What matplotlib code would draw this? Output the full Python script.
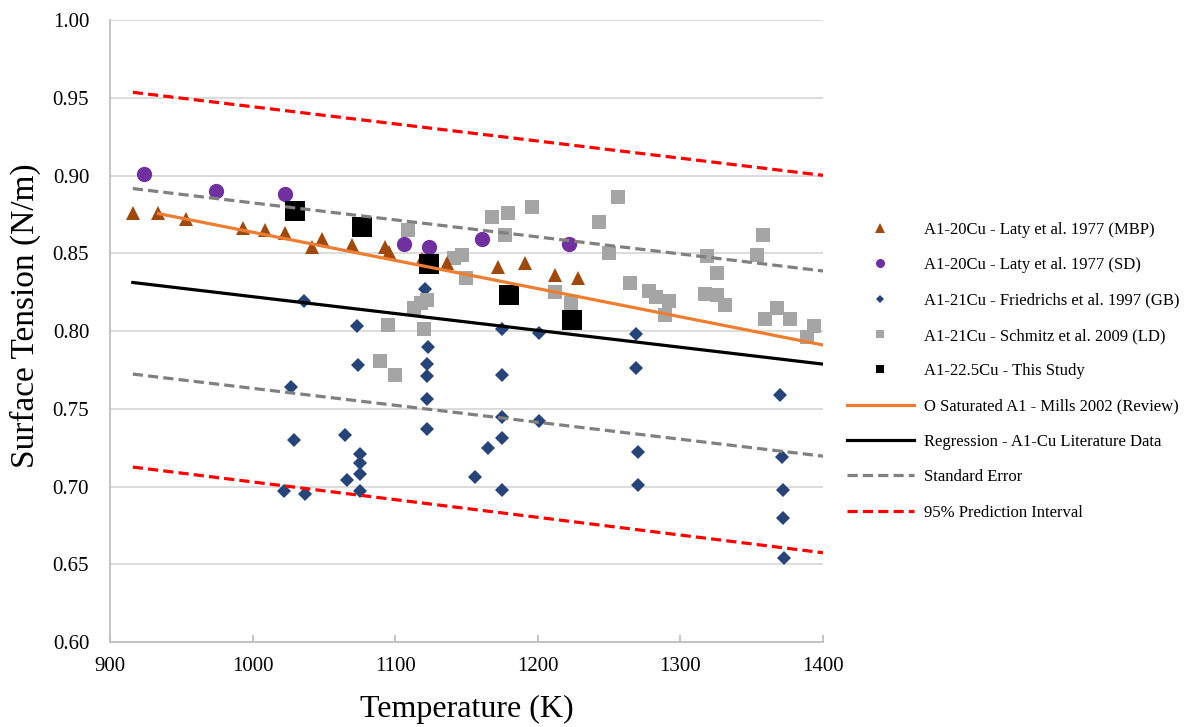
import numpy as np
import matplotlib
matplotlib.use('Agg')
import matplotlib.pyplot as plt
from matplotlib.lines import Line2D

plt.rcParams['font.family'] = ['Liberation Serif', 'DejaVu Serif']

# Laty et al. 1977, maximum bubble pressure
mbp_T = [916, 934, 953, 993, 1009, 1023, 1042, 1049, 1070, 1093, 1096, 1119, 1136, 1172, 1191, 1212, 1228]
mbp_st = [0.876, 0.876, 0.872, 0.866, 0.865, 0.863, 0.854, 0.859, 0.855, 0.854, 0.851, 0.846, 0.844, 0.841, 0.844, 0.836, 0.834]

# Laty et al. 1977, sessile drop
sd_T = [924, 974, 1023, 1106, 1124, 1161, 1222]
sd_st = [0.901, 0.890, 0.888, 0.856, 0.854, 0.859, 0.856]

# Friedrichs et al. 1997, GB
gb_T = [1036, 1027, 1029, 1022, 1037, 1073, 1074, 1065, 1066, 1075, 1075, 1075, 1075,
        1121, 1123, 1122, 1122, 1122, 1122, 1156, 1165, 1175, 1175, 1175, 1175, 1175,
        1201, 1201, 1269, 1269, 1270, 1270, 1370, 1371, 1372, 1372, 1373]
gb_st = [0.819, 0.764, 0.730, 0.697, 0.695, 0.803, 0.778, 0.733, 0.704, 0.721, 0.715, 0.708, 0.697,
         0.827, 0.790, 0.779, 0.771, 0.756, 0.737, 0.706, 0.725, 0.801, 0.772, 0.745, 0.731, 0.698,
         0.799, 0.742, 0.798, 0.776, 0.722, 0.701, 0.759, 0.719, 0.698, 0.680, 0.654]

# Schmitz et al. 2009, levitated drop
ld_T = [1089, 1100, 1095, 1109, 1113, 1118, 1122, 1120, 1141, 1147, 1150, 1168, 1179, 1177,
        1196, 1212, 1223, 1243, 1256, 1250, 1265, 1278, 1283, 1292, 1289, 1319, 1326, 1317,
        1326, 1331, 1358, 1354, 1359, 1368, 1377, 1394, 1389]
ld_st = [0.781, 0.772, 0.804, 0.865, 0.815, 0.818, 0.820, 0.801, 0.847, 0.849, 0.834, 0.873, 0.876, 0.862,
         0.880, 0.825, 0.818, 0.870, 0.886, 0.850, 0.831, 0.826, 0.822, 0.819, 0.810, 0.848, 0.837, 0.824,
         0.823, 0.817, 0.862, 0.849, 0.808, 0.815, 0.808, 0.803, 0.796]

# this study
ts_T = [1030, 1077, 1124, 1180, 1224]
ts_st = [0.877, 0.867, 0.843, 0.823, 0.807]

# fitted lines, end points
mills_T = [934, 1400]
mills_st = [0.8755, 0.791]
fit_T = [916, 1400]
reg_st = [0.8312, 0.7787]
se_hi = [0.8916, 0.8386]
se_lo = [0.7723, 0.7195]
pi_hi = [0.9535, 0.9001]
pi_lo = [0.7125, 0.6574]

c_mbp = '#A0490F'
c_sd = '#7030A0'
c_gb = '#264478'
c_ld = '#A5A5A5'
c_mills = '#ED7D31'
c_se = '#808080'
c_pi = '#FF0000'

fig = plt.figure(figsize=(11.93, 7.27), dpi=100)
ax = fig.add_axes([110 / 1193, 1 - 642 / 727, 713 / 1193, 622 / 727])

ax.plot(gb_T, gb_st, ls='none', marker='D', ms=7, color=c_gb, mew=0, zorder=3)
ax.plot(ld_T, ld_st, ls='none', marker='s', ms=10.5, color=c_ld, mew=0, zorder=3)
ax.plot(mbp_T, mbp_st, ls='none', marker='^', ms=10, color=c_mbp, mew=0, zorder=3)
ax.plot(sd_T, sd_st, ls='none', marker='o', ms=11, color=c_sd, mew=0, zorder=3)
ax.plot(ts_T, ts_st, ls='none', marker='s', ms=14.5, color='black', mew=0, zorder=3)

ls_dash = (0, (3.2, 1.6))
ax.plot(mills_T, mills_st, color=c_mills, lw=2.3, zorder=4)
ax.plot(fit_T, reg_st, color='black', lw=2.3, zorder=4)
ax.plot(fit_T, se_hi, color=c_se, lw=2.3, ls=ls_dash, zorder=4)
ax.plot(fit_T, se_lo, color=c_se, lw=2.3, ls=ls_dash, zorder=4)
ax.plot(fit_T, pi_hi, color=c_pi, lw=2.3, ls=ls_dash, zorder=4)
ax.plot(fit_T, pi_lo, color=c_pi, lw=2.3, ls=ls_dash, zorder=4)

ax.set_xlim(900, 1400)
ax.set_ylim(0.60, 1.00)
ax.set_xticks(np.arange(900, 1401, 100))
ax.set_yticks(np.arange(0.60, 1.001, 0.05))
ax.yaxis.set_major_formatter(matplotlib.ticker.FormatStrFormatter('%.2f'))
ax.grid(axis='y', color='#D9D9D9', lw=1.3, zorder=0)
ax.set_axisbelow(True)
for s in ['top', 'right']:
    ax.spines[s].set_visible(False)
for s in ['left', 'bottom']:
    ax.spines[s].set_color('#BFBFBF')
    ax.spines[s].set_linewidth(1.3)
ax.tick_params(axis='x', direction='in', length=5, width=1.3, color='#BFBFBF', pad=11, labelsize=15)
ax.tick_params(axis='y', length=0, pad=15, labelsize=15)

ax.set_xlabel('Temperature (K)', fontsize=23)
ax.set_ylabel('Surface Tension (N/m)', fontsize=24)
ax.xaxis.set_label_coords(0.5, -0.085)
ax.yaxis.set_label_coords(-0.097, 0.525)

handles = [
    Line2D([], [], ls='none', marker='^', ms=7, color=c_mbp, mew=0),
    Line2D([], [], ls='none', marker='o', ms=6.5, color=c_sd, mew=0),
    Line2D([], [], ls='none', marker='D', ms=4.5, color=c_gb, mew=0),
    Line2D([], [], ls='none', marker='s', ms=5.5, color=c_ld, mew=0),
    Line2D([], [], ls='none', marker='s', ms=5.5, color='black', mew=0),
    Line2D([], [], color=c_mills, lw=2.3),
    Line2D([], [], color='black', lw=2.3),
    Line2D([], [], color=c_se, lw=2.3, ls=ls_dash),
    Line2D([], [], color=c_pi, lw=2.3, ls=ls_dash),
]
labels = [
    'A1-20Cu - Laty et al. 1977 (MBP)',
    'A1-20Cu - Laty et al. 1977 (SD)',
    'A1-21Cu - Friedrichs et al. 1997 (GB)',
    'A1-21Cu - Schmitz et al. 2009 (LD)',
    'A1-22.5Cu - This Study',
    'O Saturated A1 - Mills 2002 (Review)',
    'Regression - A1-Cu Literature Data',
    'Standard Error',
    '95% Prediction Interval',
]
fig.legend(handles, labels, loc='upper left', bbox_to_anchor=(847 / 1193, 1 - 222 / 727),
           frameon=False, fontsize=12, borderpad=0, borderaxespad=0,
           handlelength=4.0, handletextpad=0.6, labelspacing=1.16)

fig.savefig('out.png', dpi=100)
